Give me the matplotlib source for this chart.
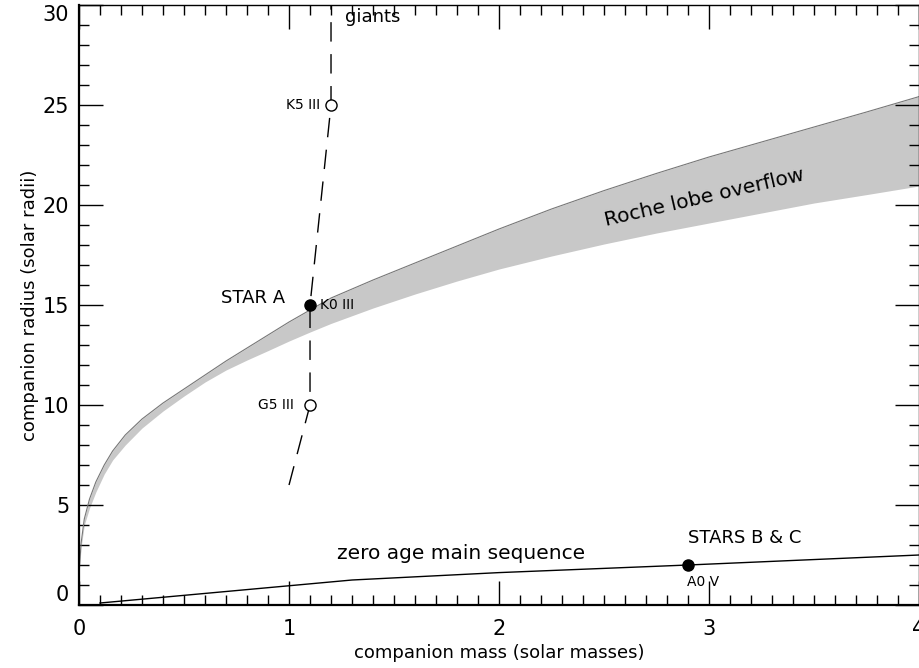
import numpy as np
import matplotlib
matplotlib.use("Agg")
import matplotlib.pyplot as plt
from matplotlib.ticker import MultipleLocator

# Roche lobe band (upper / lower edge)
roche_m = [0.0, 0.01, 0.025, 0.05, 0.08, 0.12, 0.16, 0.22, 0.3, 0.4, 0.5, 0.6, 0.7,
           0.8, 0.9, 1.0, 1.1, 1.2, 1.4, 1.6, 1.8, 2.0, 2.25, 2.5, 2.75, 3.0, 3.25,
           3.5, 3.75, 4.0]
roche_hi = [1.6, 3.1, 4.3, 5.3, 6.15, 7.0, 7.7, 8.5, 9.3, 10.1, 10.8, 11.5, 12.2,
            12.85, 13.5, 14.15, 14.75, 15.35, 16.25, 17.1, 17.95, 18.8, 19.8,
            20.72, 21.58, 22.4, 23.15, 23.9, 24.65, 25.42]
roche_lo = [1.5, 2.9, 4.0, 4.85, 5.65, 6.55, 7.25, 8.0, 8.85, 9.7, 10.45, 11.15,
            11.75, 12.25, 12.72, 13.2, 13.65, 14.08, 14.85, 15.55, 16.2, 16.8,
            17.45, 18.05, 18.6, 19.1, 19.6, 20.1, 20.52, 20.95]

# giant branch track
giant_m = [1.0, 1.1, 1.1, 1.2, 1.2]
giant_r = [6.0, 10.0, 15.0, 25.0, 30.0]

# zero age main sequence
zams_m = [0.1, 1.3, 2.0, 2.9, 4.0]
zams_r = [0.1, 1.25, 1.62, 2.0, 2.5]

# labelled stars
open_m = [1.1, 1.2]
open_r = [10.0, 25.0]
star_a = (1.1, 15.0)
star_bc = (2.9, 2.0)

plt.rcParams['font.family'] = ['DejaVu Sans']

fig = plt.figure(figsize=(9.2, 6.68), dpi=100)
ax = fig.add_axes([0.0859, 0.0943, 0.913, 0.8982])

ax.fill_between(roche_m, roche_lo, roche_hi, color="#c8c8c8", lw=0, zorder=1)
ax.plot(roche_m, roche_hi, color="#777777", lw=0.8, zorder=2)

ax.plot(giant_m, giant_r, color="black", lw=1.0, dashes=(14, 9), zorder=3)
ax.plot(zams_m, zams_r, color="black", lw=1.0, zorder=3)

ax.plot(open_m, open_r, "o", ms=8, mfc="white", mec="black", mew=1.0, zorder=4)
ax.plot(*star_a, "o", ms=8, color="black", zorder=4)
ax.plot(*star_bc, "o", ms=8, color="black", zorder=4)

small = 10
big = 13
ax.text(1.148, 25.0, "K5 III", fontsize=small, ha="right", va="center")
ax.text(1.024, 10.0, "G5 III", fontsize=small, ha="right", va="center")
ax.text(1.148, 15.0, "K0 III", fontsize=small, ha="left", va="center")
ax.text(0.981, 15.35, "STAR A", fontsize=big, ha="right", va="center")
ax.text(1.265, 29.4, "giants", fontsize=big, ha="left", va="center")
ax.text(2.976, 20.35, "Roche lobe overflow", fontsize=14.5, ha="center", va="center",
        rotation=13, rotation_mode="anchor")
ax.text(1.819, 2.6, "zero age main sequence", fontsize=14.5, ha="center", va="center")
ax.text(2.9, 3.35, "STARS B & C", fontsize=big, ha="left", va="center")
ax.text(2.895, 1.15, "A0 V", fontsize=small, ha="left", va="center")

ax.set_xlim(0, 4)
ax.set_ylim(0, 30)
ax.xaxis.set_major_locator(MultipleLocator(1))
ax.xaxis.set_minor_locator(MultipleLocator(0.1))
ax.yaxis.set_major_locator(MultipleLocator(5))
ax.yaxis.set_minor_locator(MultipleLocator(1))
ax.tick_params(which="both", direction="in", top=True, right=True, width=1.0, labelsize=15)
ax.tick_params(which="major", length=17)
ax.tick_params(axis="x", which="major", pad=10)
ax.tick_params(axis="y", which="major", pad=7)
ax.tick_params(which="minor", length=7)
for s in ["left", "bottom"]:
    ax.spines[s].set_linewidth(1.6)
for s in ["top", "right"]:
    ax.spines[s].set_linewidth(1.0)

ax.set_xlabel("companion mass (solar masses)", fontsize=13, labelpad=4)
ax.set_ylabel("companion radius (solar radii)", fontsize=13, labelpad=3)

# keep end labels inside the frame like the original
fig.canvas.draw()
for tick in ax.yaxis.get_major_ticks():
    if abs(tick.get_loc() - 30) < 1e-6:
        tick.label1.set_va("top")
    elif abs(tick.get_loc()) < 1e-6:
        tick.label1.set_va("bottom")

fig.savefig("out.png", dpi=100)
